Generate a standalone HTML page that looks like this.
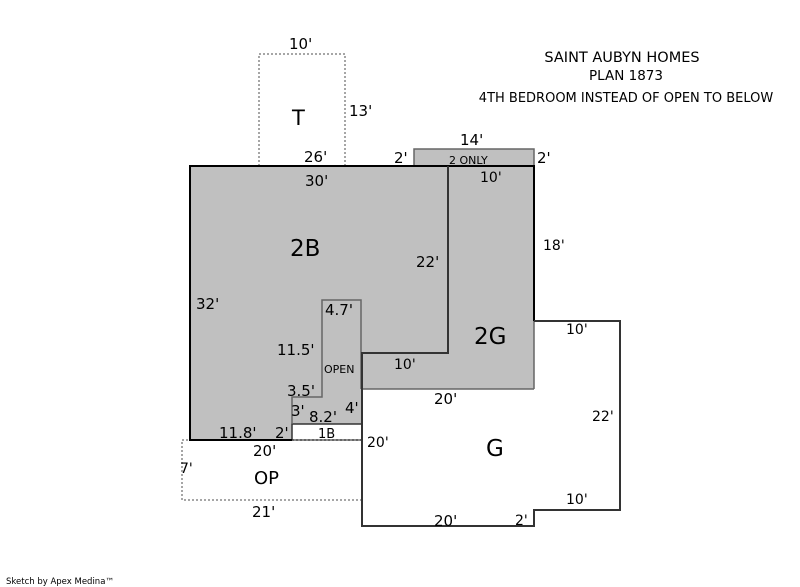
<!DOCTYPE html>
<html><head><style>
html,body{margin:0;padding:0;background:#fff;}
svg{display:block;}
text{font-family:"DejaVu Sans","Liberation Sans",sans-serif;fill:#000;}
</style></head><body>
<svg width="800" height="587" viewBox="0 0 800 587" xmlns="http://www.w3.org/2000/svg">
<rect x="259" y="54" width="86" height="112" fill="none" stroke="#888" stroke-width="1.5" stroke-dasharray="2,2"/>
<rect x="414" y="149" width="120" height="17" fill="#c0c0c0" stroke="#666" stroke-width="1.5"/>
<polygon points="190,166 534,166 534,389 362,389 362,424 292,424 292,440 190,440" fill="#c0c0c0"/>
<rect x="292" y="424" width="70" height="16" fill="#fff" stroke="#333" stroke-width="1.5"/>
<rect x="182" y="440" width="180" height="60" fill="none" stroke="#888" stroke-width="1.5" stroke-dasharray="2,2"/>
<polyline points="292,424 292,397 322,397 322,300 361,300 361,389" fill="none" stroke="#666" stroke-width="1.5"/>
<line x1="362" y1="389" x2="534" y2="389" stroke="#666" stroke-width="1.5"/>
<line x1="534" y1="321" x2="534" y2="389" stroke="#666" stroke-width="1.5"/>
<polyline points="292,440 190,440 190,166 534,166 534,321" fill="none" stroke="#000" stroke-width="2"/>
<polyline points="448,166 448,353 362,353 362,526 534,526 534,510 620,510 620,321 534,321" fill="none" stroke="#333" stroke-width="2"/>
<g font-size="15">
<text x="289" y="49">10'</text>
<text x="349" y="116">13'</text>
<text x="292" y="125" font-size="21">T</text>
<text x="304" y="162">26'</text>
<text x="305" y="186">30'</text>
<text x="394" y="163">2'</text>
<text x="460" y="145">14'</text>
<text x="537" y="163">2'</text>
<text x="480" y="182" font-size="14">10'</text>
<text x="543" y="250" font-size="14">18'</text>
<text x="290" y="256" font-size="23">2B</text>
<text x="416" y="267">22'</text>
<text x="196" y="309">32'</text>
<text x="325" y="315">4.7'</text>
<text x="277" y="355">11.5'</text>
<text x="287" y="396">3.5'</text>
<text x="291" y="416">3'</text>
<text x="309" y="422">8.2'</text>
<text x="345" y="413">4'</text>
<text x="219" y="438">11.8'</text>
<text x="275" y="438">2'</text>
<text x="253" y="456">20'</text>
<text x="474" y="344" font-size="23">2G</text>
<text x="394" y="369" font-size="14">10'</text>
<text x="434" y="404">20'</text>
<text x="566" y="334" font-size="14">10'</text>
<text x="592" y="421" font-size="14">22'</text>
<text x="486" y="456" font-size="23">G</text>
<text x="367" y="447" font-size="14">20'</text>
<text x="566" y="504" font-size="14">10'</text>
<text x="434" y="526">20'</text>
<text x="515" y="525" font-size="14">2'</text>
<text x="180" y="473" font-size="14">7'</text>
<text x="254" y="484" font-size="18">OP</text>
<text x="252" y="517">21'</text>
</g>
<text x="324" y="373" font-size="11">OPEN</text>
<text x="449" y="164" font-size="11">2 ONLY</text>
<text x="318" y="438" font-size="13">1B</text>
<text x="622" y="62" font-size="14.5" text-anchor="middle">SAINT AUBYN HOMES</text>
<text x="626" y="80" font-size="13.5" text-anchor="middle">PLAN 1873</text>
<text x="626" y="102" font-size="13" text-anchor="middle">4TH BEDROOM INSTEAD OF OPEN TO BELOW</text>
<text x="6" y="584" font-size="8.5">Sketch by Apex Medina™</text>
</svg>
</body></html>
